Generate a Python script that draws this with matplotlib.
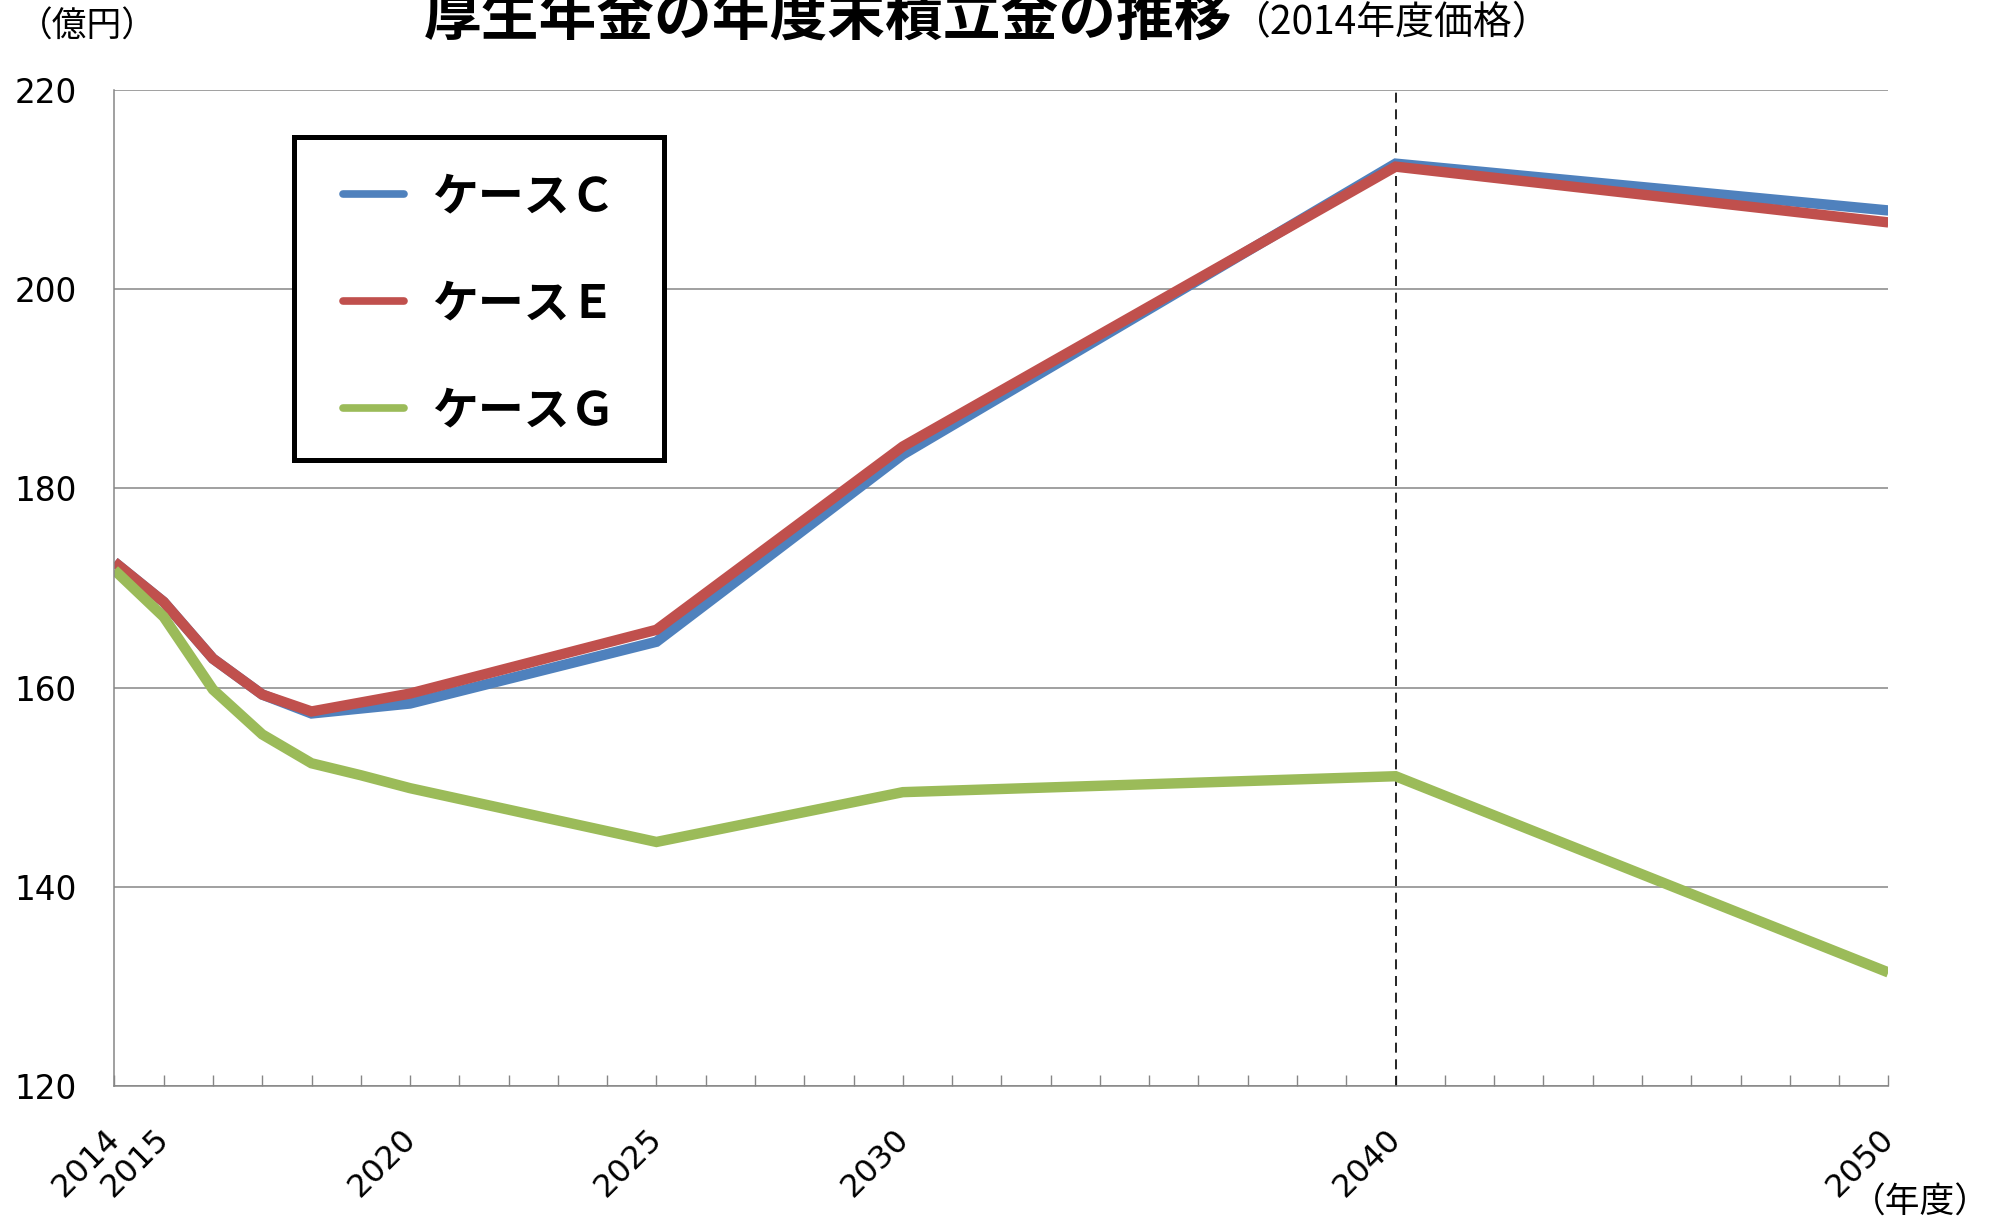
import numpy as np
import matplotlib.pyplot as plt
import matplotlib.transforms as mtransforms
from matplotlib.patches import Rectangle

# 厚生年金の年度末積立金（2014年度価格、億円）
years = [2014, 2015, 2016, 2017, 2018, 2019, 2020, 2025, 2030, 2040, 2050]
case_c = [172.6, 168.6, 162.9, 159.3, 157.4, 157.9, 158.4, 164.6, 183.4, 212.6, 207.9]
case_e = [172.6, 168.6, 162.9, 159.3, 157.6, 158.5, 159.4, 165.8, 184.2, 212.3, 206.7]
case_g = [171.8, 167.1, 159.8, 155.3, 152.4, 151.2, 149.9, 144.5, 149.5, 151.1, 131.4]
labels = ['ケースＣ', 'ケースＥ', 'ケースＧ']
colors = ['#4F81BD', '#C0504D', '#9BBB59']
label_years = [2014, 2015, 2020, 2025, 2030, 2040, 2050]
y_ticks = [120, 140, 160, 180, 200, 220]

jp = 'Noto Sans CJK JP'
grey = '#868686'

fig = plt.figure(figsize=(19.93, 12.22), dpi=100)
ax = fig.add_axes([0.0574, 0.1113, 0.8901, 0.8151])

for vals, c, l in zip([case_c, case_e, case_g], colors, labels):
	ax.plot(years, vals, color=c, lw=7.5, label=l, solid_joinstyle='miter', solid_capstyle='butt')

ax.axvline(2040, color='black', lw=1.2, ls=(0, (6, 4)), zorder=1)

ax.set_xlim(2014, 2050)
ax.set_ylim(120, 220)
ax.set_yticks(y_ticks)
ax.set_yticklabels([str(v) for v in y_ticks], fontsize=23.5)
ax.tick_params(axis='y', length=0, pad=27)
ax.yaxis.grid(True, color=grey, lw=1.1)
ax.set_axisbelow(True)

all_years = np.arange(2014, 2051)
ax.set_xticks(all_years)
ax.set_xticklabels([str(y) if y in label_years else '' for y in all_years],
	fontsize=23, rotation=45, ha='right', va='top')
ax.tick_params(axis='x', direction='in', length=8, width=1, color=grey, pad=27)
offset = mtransforms.ScaledTranslation(0.12, 0, fig.dpi_scale_trans)
for lbl in ax.get_xticklabels():
	lbl.set_transform(lbl.get_transform() + offset)

for s in ['top', 'right']:
	ax.spines[s].set_visible(False)
for s in ['left', 'bottom']:
	ax.spines[s].set_color(grey)
	ax.spines[s].set_linewidth(1.1)

# legend box drawn separately so the padding can match
ax.add_patch(Rectangle((0.1011, 0.6284), 0.2085, 0.3241, transform=ax.transAxes,
	facecolor='white', edgecolor='black', lw=3.6, zorder=4, clip_on=False))
leg = ax.legend(loc='upper left', bbox_to_anchor=(0.129, 0.9151), borderaxespad=0,
	prop={'family': jp, 'weight': 'bold', 'size': 33}, handlelength=1.33, handletextpad=0.61,
	labelspacing=1.33, borderpad=0, frameon=False)
leg.set_zorder(5)
for h in leg.get_lines():
	h.set_linewidth(5.5)
	h.set_solid_capstyle('round')

fig.text(0.2125, 0.9853, '厚生年金の年度末積立金の推移', family=jp, weight='bold',
	fontsize=41.6, ha='left', va='center')
fig.text(0.618, 0.981, '（2014年度価格）', family=jp, fontsize=28, ha='left', va='center')
fig.text(0.0089, 0.978, '（億円）', family=jp, fontsize=25, ha='left', va='center')
fig.text(0.9985, 0.0155, '（年度）', family=jp, fontsize=25, ha='right', va='center')

plt.savefig('out.png')
